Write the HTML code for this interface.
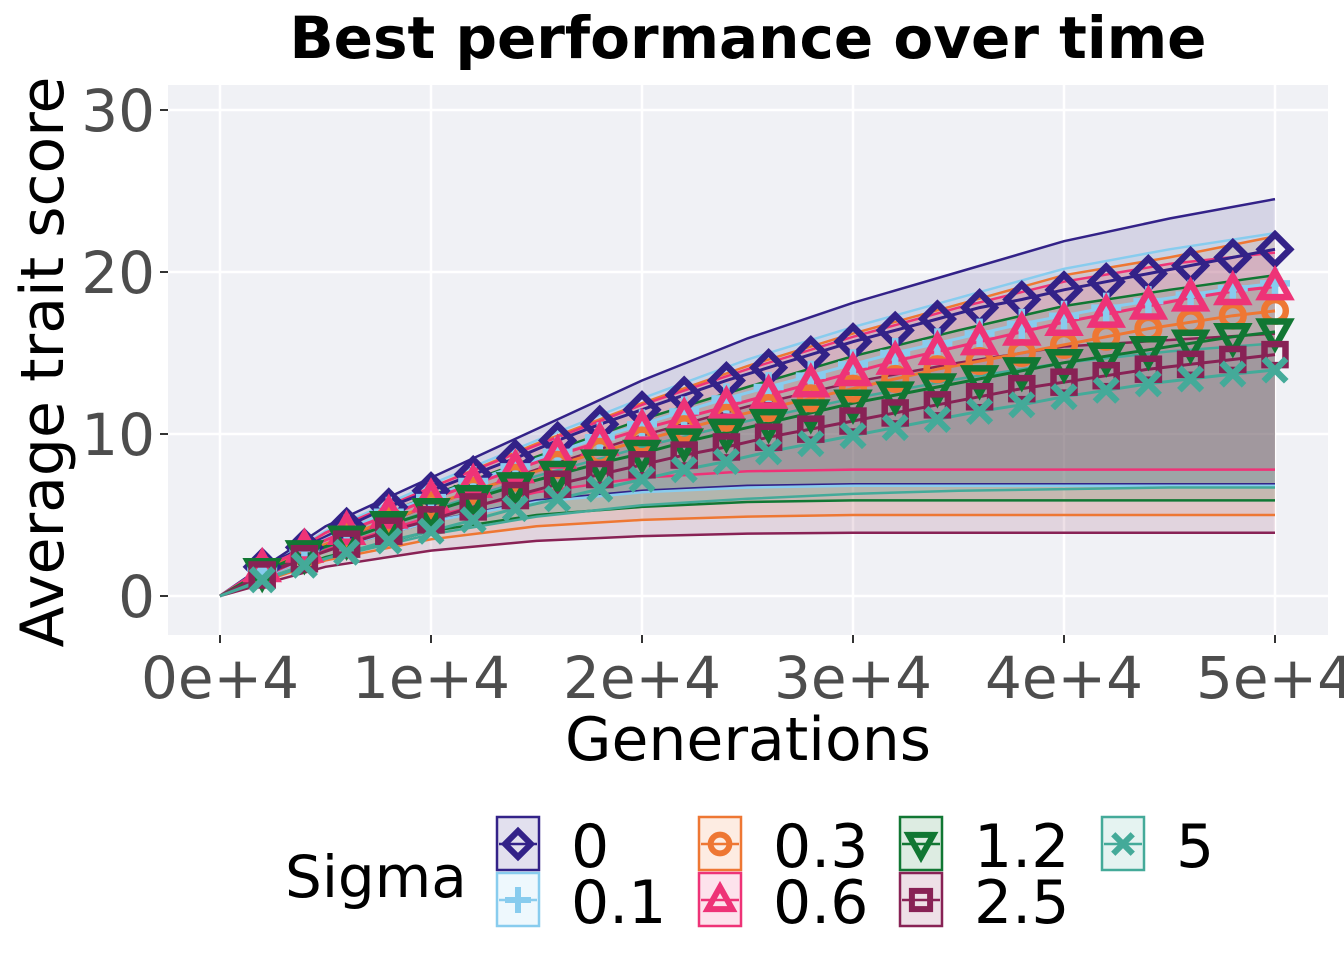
<!DOCTYPE html>
<html><head><meta charset="utf-8"><style>
html,body{margin:0;padding:0;background:#fff;}
svg{display:block;font-family:"DejaVu Sans","Liberation Sans",sans-serif;}
</style></head><body>
<svg id="chart" width="1344" height="960" viewBox="0 0 1344 960">
<rect width="1344" height="960" fill="#fff"/>
<text x="748" y="58" text-anchor="middle" font-size="58" font-weight="bold" fill="#000">Best performance over time</text>
<rect x="168" y="85" width="1160" height="550" fill="#F0F1F5"/>
<g id="grid"></g>
<g id="ribbons"></g>
<g id="bounds"></g>
<g id="means"></g>
<g id="marks"></g>
<g id="axes"></g>
<text x="0" y="0" transform="translate(63,362) rotate(-90)" text-anchor="middle" font-size="60" fill="#000">Average trait score</text>
<text x="748" y="760" text-anchor="middle" font-size="60" fill="#000">Generations</text>
<g id="legend">
<text x="285" y="897" font-size="58" fill="#000">Sigma</text>
</g>
</svg>
<script>
const genAll=[0,2000,4000,6000,8000,10000,12000,14000,16000,18000,20000,22000,24000,26000,28000,30000,32000,34000,36000,38000,40000,42000,44000,46000,48000,50000];
const genCoarse=[0,5000,10000,15000,20000,25000,30000,35000,40000,45000,50000];
const sigmaLabels=["0","0.1","0.3","0.6","1.2","2.5","5"];
const mean0=[0,1.8,3.0,4.3,5.5,6.5,7.5,8.5,9.6,10.6,11.5,12.4,13.3,14.1,14.9,15.7,16.4,17.1,17.8,18.3,18.9,19.4,19.9,20.4,20.9,21.4];
const mean01=[0,1.7,2.9,4.1,5.2,6.1,7.1,8.0,8.9,9.8,10.6,11.4,12.2,12.9,13.6,14.3,15.0,15.6,16.2,16.8,17.3,17.8,18.2,18.6,19.0,19.3];
const mean03=[0,1.6,2.7,3.7,4.7,5.6,6.5,7.3,8.1,8.9,9.6,10.3,11.0,11.6,12.2,12.8,13.4,14.0,14.5,15.0,15.5,16.0,16.5,16.9,17.3,17.6];
const mean06=[0,1.7,2.9,4.0,5.0,6.0,6.9,7.8,8.7,9.5,10.3,11.0,11.7,12.4,13.1,13.8,14.5,15.1,15.7,16.3,16.9,17.4,17.9,18.4,18.8,19.1];
const mean12=[0,1.5,2.6,3.5,4.4,5.2,6.0,6.8,7.5,8.2,8.8,9.5,10.1,10.7,11.3,11.9,12.4,12.9,13.4,13.9,14.4,14.8,15.2,15.6,16.0,16.3];
const mean25=[0,1.3,2.3,3.2,4.0,4.7,5.5,6.2,6.9,7.5,8.1,8.7,9.2,9.8,10.3,10.8,11.3,11.8,12.3,12.8,13.2,13.6,14.0,14.3,14.6,14.9];
const mean5=[0,1.0,1.9,2.7,3.4,4.0,4.7,5.4,6.0,6.6,7.2,7.8,8.3,8.9,9.4,9.9,10.4,10.9,11.4,11.8,12.3,12.7,13.1,13.4,13.7,13.95];
const upper0=[0,4.3,7.3,10.3,13.3,15.9,18.1,20.0,21.9,23.3,24.5];
const upper01=[0,4.0,6.9,9.6,12.2,14.6,16.6,18.4,20.2,21.4,22.4];
const upper03=[0,3.9,6.7,9.4,11.9,14.2,16.2,18.0,19.8,20.9,22.2];
const upper06=[0,3.9,6.7,9.3,11.8,14.0,16.0,17.8,19.4,20.5,21.2];
const upper12=[0,3.6,6.2,8.6,10.9,12.9,14.8,16.4,17.9,18.9,19.8];
const upper25=[0,3.2,5.6,7.8,9.9,11.7,13.2,14.4,15.4,15.8,16.2];
const upper5=[0,3.0,5.3,7.4,9.2,10.8,12.2,13.4,14.4,15.1,15.6];
const lower0=[0,2.8,4.6,5.9,6.5,6.8,6.9,6.9,6.9,6.9,6.9];
const lower01=[0,2.8,4.6,5.8,6.4,6.7,6.8,6.8,6.8,6.8,6.8];
const lower03=[0,2.2,3.5,4.3,4.7,4.9,5.0,5.0,5.0,5.0,5.0];
const lower06=[0,2.9,4.9,6.4,7.3,7.7,7.8,7.8,7.8,7.8,7.8];
const lower12=[0,2.4,4.0,5.0,5.5,5.8,5.9,5.9,5.9,5.9,5.9];
const lower25=[0,1.8,2.8,3.4,3.7,3.85,3.9,3.9,3.9,3.9,3.9];
const lower5=[0,2.3,3.8,4.9,5.6,6.0,6.3,6.5,6.6,6.7,6.7];
const xTicks=[0,10000,20000,30000,40000,50000];
const xTickLabels=["0e+4","1e+4","2e+4","3e+4","4e+4","5e+4"];
const yTicks=[0,10,20,30];

const means=[mean0,mean01,mean03,mean06,mean12,mean25,mean5];
const uppers=[upper0,upper01,upper03,upper06,upper12,upper25,upper5];
const lowers=[lower0,lower01,lower03,lower06,lower12,lower25,lower5];
const colors=["#332288","#88CCEE","#EE7733","#EE3377","#117733","#882255","#44AA99"];
const shapes=["diamond","plus","circle","tri","dtri","square","x"];

const NS="http://www.w3.org/2000/svg";
const X=g=>220+(g/50000)*1055;
const Y=v=>596-v*16.2;
function mk(tag,attrs,parent){const e=document.createElementNS(NS,tag);for(const k in attrs)e.setAttribute(k,attrs[k]);parent.appendChild(e);return e;}
const grid=document.getElementById('grid'),axes=document.getElementById('axes');
yTicks.forEach((t,i)=>{
  const l=mk('line',{x1:168,x2:1328,y1:Y(t),y2:Y(t),stroke:'#fff','stroke-width':2.5},grid);
  
  
  const tk=mk('line',{x1:160,x2:168,y1:Y(t),y2:Y(t),stroke:'#333','stroke-width':2},axes);
  
  
  const tx=mk('text',{x:155,y:Y(t)+21,'text-anchor':'end','font-size':58,fill:'#4D4D4D'},axes);
  tx.textContent=String(t);
  
  
});
xTicks.forEach((t,i)=>{
  const l=mk('line',{x1:X(t),x2:X(t),y1:85,y2:635,stroke:'#fff','stroke-width':2.5},grid);
  
  
  const tk=mk('line',{x1:X(t),x2:X(t),y1:635,y2:643,stroke:'#333','stroke-width':2},axes);
  
  
  const tx=mk('text',{x:X(t),y:698,'text-anchor':'middle','font-size':58,fill:'#4D4D4D'},axes);
  tx.textContent=xTickLabels[i];
  
  
});
const rib=document.getElementById('ribbons'),bnd=document.getElementById('bounds'),mn=document.getElementById('means'),mks=document.getElementById('marks');
function pts(xs,ys){return xs.map((g,i)=>X(g).toFixed(1)+','+Y(ys[i]).toFixed(1));}
function marker(shape,cx,cy,s,c,parent,sw){
  const g=mk('g',{fill:'none',stroke:c,'stroke-width':sw,'stroke-linejoin':'miter'},parent);
  if(shape==='diamond')mk('polygon',{points:`${cx},${cy-s} ${cx+s},${cy} ${cx},${cy+s} ${cx-s},${cy}`},g);
  else if(shape==='plus'){mk('line',{x1:cx-s,x2:cx+s,y1:cy,y2:cy},g);mk('line',{x1:cx,x2:cx,y1:cy-s,y2:cy+s},g);}
  else if(shape==='circle')mk('circle',{cx:cx,cy:cy,r:s*0.72},g);
  else if(shape==='tri')mk('polygon',{points:`${cx},${cy-s} ${cx+s*0.95},${cy+s*0.7} ${cx-s*0.95},${cy+s*0.7}`},g);
  else if(shape==='dtri')mk('polygon',{points:`${cx},${cy+s} ${cx+s*0.95},${cy-s*0.7} ${cx-s*0.95},${cy-s*0.7}`},g);
  else if(shape==='square')mk('rect',{x:cx-s*0.7,y:cy-s*0.7,width:s*1.4,height:s*1.4},g);
  else {mk('line',{x1:cx-s*0.75,x2:cx+s*0.75,y1:cy-s*0.75,y2:cy+s*0.75},g);mk('line',{x1:cx-s*0.75,x2:cx+s*0.75,y1:cy+s*0.75,y2:cy-s*0.75},g);}
  return g;
}
means.forEach((m,si)=>{
  const c=colors[si];
  const up=pts(genCoarse,uppers[si]),lo=pts(genCoarse,lowers[si]).reverse();
  const r=mk('polygon',{points:up.concat(lo).join(' '),fill:c,'fill-opacity':0.14,stroke:'none'},rib);
  
  
  [uppers[si],lowers[si]].forEach(b=>{
    const l=mk('polyline',{points:pts(genCoarse,b).join(' '),fill:'none',stroke:c,'stroke-width':2.5},bnd);
    
    
  });
  const ml=mk('polyline',{points:pts(genAll,m).join(' '),fill:'none',stroke:c,'stroke-width':3},mn);
  
  
});
means.forEach((m,si)=>{
  genAll.forEach((g,i)=>{
    if(i===0)return;
    const e=marker(shapes[si],X(g),Y(m[i]),15,colors[si],mks,6.5);
    
    
  });
});
const leg=document.getElementById('legend');
const legPos=[[497,817],[497,873],[699,817],[699,873],[900,817],[900,873],[1102,817]];
sigmaLabels.forEach((lab,si)=>{
  const [bx,by]=legPos[si],c=colors[si];
  const g=mk('g',{},leg);
  
  
  mk('rect',{x:bx,y:by,width:42,height:53,fill:c,'fill-opacity':0.14,stroke:c,'stroke-width':2.5},g);
  mk('line',{x1:bx+2,x2:bx+40,y1:by+27,y2:by+27,stroke:c,'stroke-width':2.5},g);
  marker(shapes[si],bx+21,by+27,13,c,g,6);
  const t=mk('text',{x:bx+74,y:by+50,'font-size':60,fill:'#000'},g);
  t.textContent=lab;
});
</script>
</body></html>
